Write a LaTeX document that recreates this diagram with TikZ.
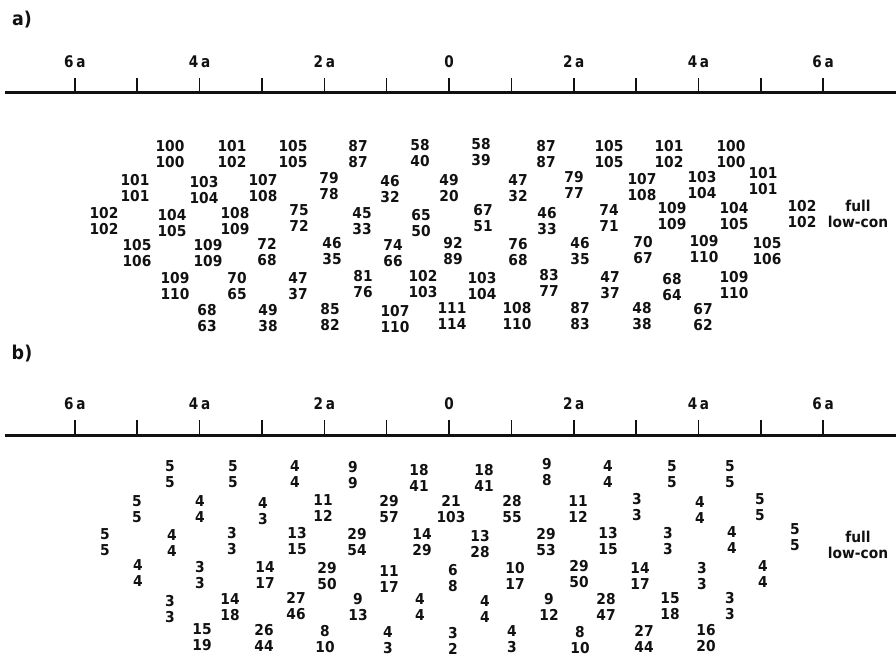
\documentclass[tikz,border=0pt]{standalone}
\usepackage{fontspec}
\usetikzlibrary{positioning}
\newfontfamily\cellfont{DejaVu Sans}[FakeStretch=0.92]
\newfontfamily\axisfont{DejaVu Sans}[FakeStretch=0.85]
\definecolor{Ink}{HTML}{111111}

\begin{document}
\begin{tikzpicture}[x=1pt,y=-1pt,
    cell/.style={align=center,inner sep=0pt,text=Ink,
      font=\cellfont\bfseries\fontsize{15}{16.5}\selectfont},
    ticklabel/.style={inner sep=0pt,text=Ink,font=\axisfont\bfseries\fontsize{16}{16}\selectfont},
    panel/.style={inner sep=0pt,text=Ink,font=\cellfont\bfseries\fontsize{19}{19}\selectfont}]
  \useasboundingbox (0,0) rectangle (896,660);
  % the two axes
  \foreach \p/\ya/\yl/\ys in {a/20/62/93,b/354/404/435}{
    \node[panel] (panel-\p) at (22,\ya) {\p)};
    \draw[line width=3pt,Ink] (5,\ys) -- (896,\ys);
    \foreach \k in {-6,...,6}
      \draw[line width=1.6pt,Ink] (449+62.35*\k,\ys) -- ++(0,-15);
    \foreach \k/\t [count=\i] in {-6/6\,a,-4/4\,a,-2/2\,a,0/0,2/2\,a,4/4\,a,6/6\,a}
      \node[ticklabel] (tick-\p\i) at (449+62.35*\k,\yl) {\t};
  }
  % panel a: full / low-con
  \foreach \x/\y/\hi/\lo [count=\i] in {
      170/154/100/100, 232/154/101/102, 293/154/105/105, 358/154/87/87, 420/153/58/40,
      481/152/58/39, 546/154/87/87, 609/154/105/105, 669/154/101/102, 731/154/100/100,
      135/188/101/101, 204/190/103/104, 263/188/107/108, 329/186/79/78, 390/189/46/32,
      449/188/49/20, 518/188/47/32, 574/185/79/77, 642/187/107/108, 702/185/103/104, 763/181/101/101,
      104/221/102/102, 172/223/104/105, 235/221/108/109, 299/218/75/72, 362/221/45/33, 421/223/65/50,
      483/218/67/51, 547/221/46/33, 609/218/74/71, 672/216/109/109, 734/216/104/105, 802/214/102/102,
      137/253/105/106, 208/253/109/109, 267/252/72/68, 332/251/46/35, 393/253/74/66,
      453/251/92/89, 518/252/76/68, 580/251/46/35, 643/250/70/67, 704/249/109/110, 767/251/105/106,
      175/286/109/110, 237/286/70/65, 298/286/47/37, 363/284/81/76, 423/284/102/103,
      482/286/103/104, 549/283/83/77, 610/285/47/37, 672/287/68/64, 734/285/109/110,
      207/318/68/63, 268/318/49/38, 330/317/85/82, 395/319/107/110, 452/316/111/114,
      517/316/108/110, 580/316/87/83, 642/316/48/38, 703/317/67/62}
    \node[cell] (a-\i) at (\x,\y) {\hi\\\lo};
  \node[cell] (key-a) at (858,214) {full\\low-con};
  % panel b
  \foreach \x/\y/\hi/\lo [count=\i] in {
      170/474/5/5, 233/474/5/5, 295/474/4/4, 353/475/9/9, 419/478/18/41,
      484/478/18/41, 547/472/9/8, 608/474/4/4, 672/474/5/5, 730/474/5/5,
      137/509/5/5, 200/509/4/4, 263/511/4/3, 323/508/11/12, 389/509/29/57,
      451/509/21/103, 512/509/28/55, 578/509/11/12, 637/507/3/3, 700/510/4/4, 760/507/5/5,
      105/542/5/5, 172/543/4/4, 232/541/3/3, 297/541/13/15, 357/542/29/54, 422/542/14/29,
      480/544/13/28, 546/542/29/53, 608/541/13/15, 668/541/3/3, 732/540/4/4, 795/537/5/5,
      138/573/4/4, 200/575/3/3, 265/575/14/17, 327/576/29/50, 389/579/11/17,
      453/578/6/8, 515/576/10/17, 579/574/29/50, 640/576/14/17, 702/576/3/3, 763/574/4/4,
      170/609/3/3, 230/607/14/18, 296/606/27/46, 358/607/9/13, 420/607/4/4,
      485/609/4/4, 549/607/9/12, 606/607/28/47, 670/606/15/18, 730/606/3/3,
      202/637/15/19, 264/638/26/44, 325/639/8/10, 388/640/4/3, 453/641/3/2,
      512/639/4/3, 580/640/8/10, 644/639/27/44, 706/638/16/20}
    \node[cell] (b-\i) at (\x,\y) {\hi\\\lo};
  \node[cell] (key-b) at (858,545) {full\\low-con};
\end{tikzpicture}
\end{document}
